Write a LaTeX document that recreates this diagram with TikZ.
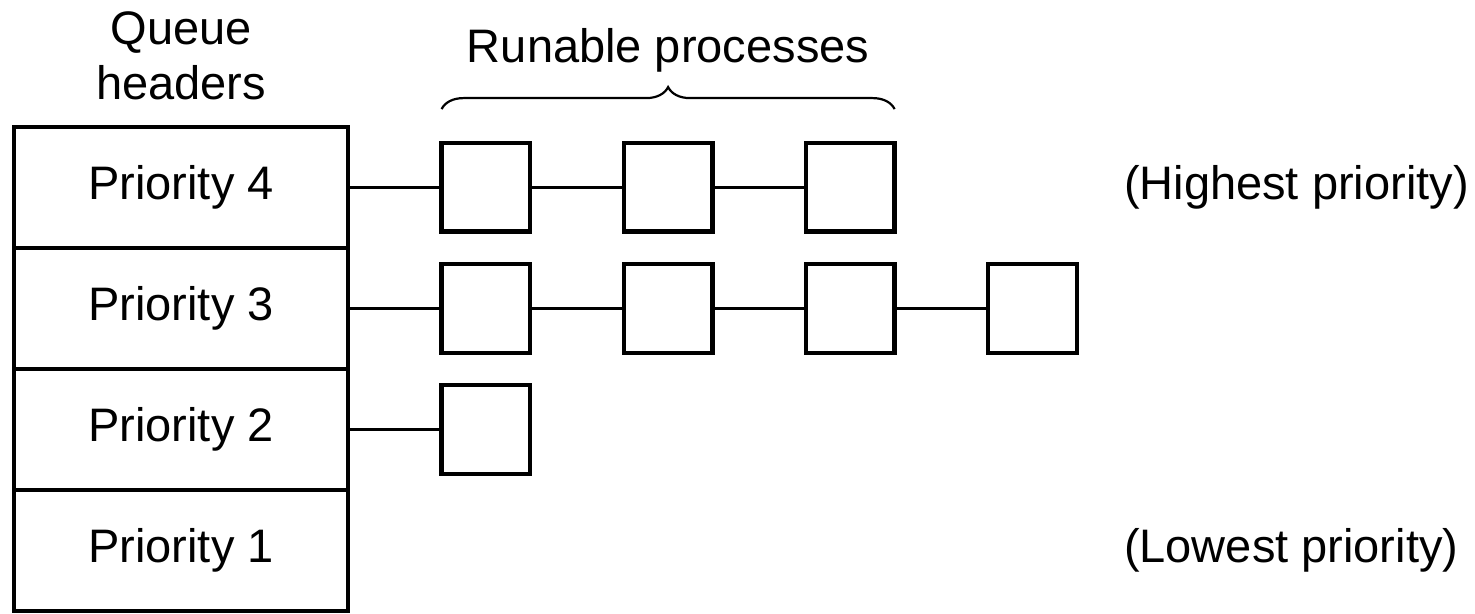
\documentclass[tikz,border=0pt]{standalone}
\usepackage{fontspec}
\setmainfont{Liberation Sans}
\usetikzlibrary{positioning,decorations.pathreplacing}

\begin{document}
\begin{tikzpicture}[
        node distance=46.8pt,
        font=\fontsize{23.5}{27.5}\selectfont,
        hdr/.style={draw, line width=2pt, outer sep=0pt, inner sep=0pt,
            minimum width=167pt, minimum height=60.5pt},
        proc/.style={draw, line width=2.2pt, outer sep=0pt, inner sep=0pt, minimum size=44.3pt},
        lnk/.style={line width=1.7pt},
        lbl/.style={inner sep=0pt}]
        \useasboundingbox (0,0) rectangle (737.5pt,-307pt);
        \node[hdr] (hdr4) at (90.5pt,-93.7pt) {Priority 4};
        \node[hdr, below=0pt of hdr4] (hdr3) {Priority 3};
        \node[hdr, below=0pt of hdr3] (hdr2) {Priority 2};
        \node[hdr, below=0pt of hdr2] (hdr1) {Priority 1};
        \node[lbl, above=13.4pt of hdr4, align=center] (qhdr) {Queue\\headers};
        \node[proc, right=of hdr4] (p41) {};
        \node[proc, right=of p41] (p42) {};
        \node[proc, right=of p42] (p43) {};
        \node[proc, right=of hdr3] (p31) {};
        \node[proc, right=of p31] (p32) {};
        \node[proc, right=of p32] (p33) {};
        \node[proc, right=of p33] (p34) {};
        \node[proc, right=of hdr2] (p21) {};
        \draw[line width=1.1pt, decorate, decoration={brace, amplitude=11pt, raise=17pt}]
            (p41.north west) -- (p43.north east)
            node[midway, yshift=46.5pt] (runlbl) {Runable processes};
        \node[lbl, right=114.5pt of p43] (hilbl) {(Highest priority)};
        \node[lbl, anchor=west] (lolbl) at (hilbl.west |- hdr1) {(Lowest priority)};
        \draw[lnk] (hdr4) -- (p41) -- (p42) -- (p43);
        \draw[lnk] (hdr3) -- (p31) -- (p32) -- (p33) -- (p34);
        \draw[lnk] (hdr2) -- (p21);
\end{tikzpicture}
\end{document}
